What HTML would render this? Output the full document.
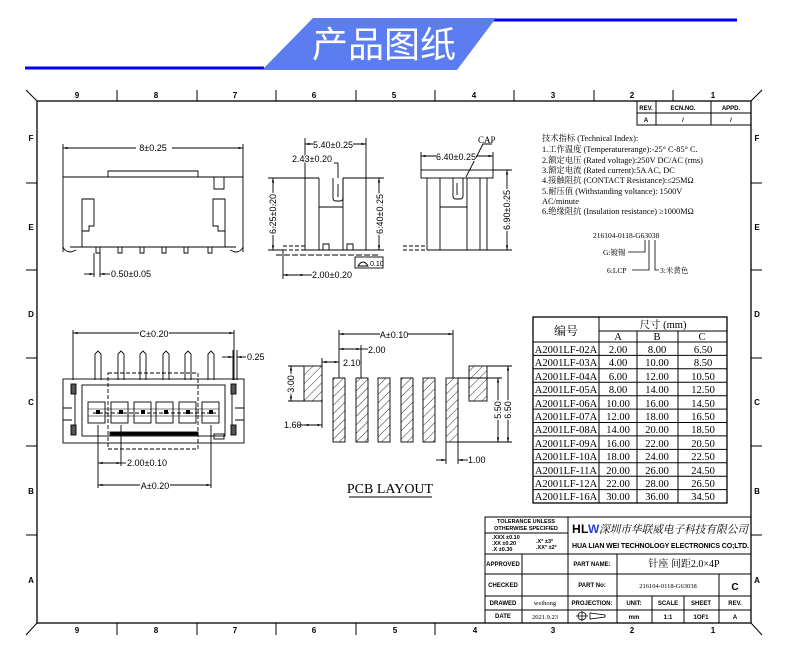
<!DOCTYPE html>
<html><head><meta charset="utf-8"><style>
html,body{margin:0;padding:0;background:#fff;}
svg{display:block;}
text{font-family:"Liberation Sans","Noto Sans CJK SC",sans-serif;fill:#000;}
.s,.s text{font-family:"Liberation Serif","Noto Serif CJK SC","Noto Sans CJK SC",serif;}
.b{font-weight:bold;}
</style></head><body>
<svg width="790" height="663" viewBox="0 0 790 663" xmlns="http://www.w3.org/2000/svg">
<defs>
<pattern id="h" width="6" height="6" patternUnits="userSpaceOnUse" patternTransform="rotate(45)"><line x1="0" y1="0" x2="0" y2="6" stroke="#000" stroke-width="0.8"/></pattern>
<marker id="a" viewBox="0 0 6 6" refX="6" refY="3" markerWidth="5" markerHeight="5" orient="auto-start-reverse"><path d="M0,1.5L6,3L0,4.5z" fill="#000"/></marker>
</defs>
<!-- header -->
<line x1="25" y1="68" x2="264" y2="68" stroke="#0000ff" stroke-width="3"/>
<line x1="493" y1="20" x2="737" y2="20" stroke="#0000ff" stroke-width="3"/>
<polygon points="313,18 496,18 457,70 262,70" fill="#5b7df0"/>
<text x="384" y="57" font-size="36" fill="#fff" style="fill:#fff" text-anchor="middle">产品图纸</text>

<!-- frame -->
<g stroke="#000" fill="none" stroke-width="1">
<rect x="37" y="101" width="714" height="522" stroke-width="1.3"/>
<line x1="26" y1="90" x2="37" y2="101"/><line x1="762" y1="90" x2="751" y2="101"/>
<line x1="26" y1="635" x2="37" y2="623"/><line x1="762" y1="635" x2="751" y2="623"/>
<path d="M117 90v11M197 90v11M276 90v11M356 90v11M435 90v11M514 90v11M594 90v11M673 90v11"/>
<path d="M117 623v12M197 623v12M276 623v12M356 623v12M435 623v12"/>
<path d="M26 183h11M26 270h11M26 358h11M26 446h11M26 535h11"/>
<path d="M751 183h11M751 270h11M751 358h11M751 446h11M751 535h11"/>
</g>
<g font-size="8" class="b" text-anchor="middle">
<text x="77" y="98">9</text><text x="156" y="98">8</text><text x="235" y="98">7</text><text x="314" y="98">6</text><text x="394" y="98">5</text><text x="474" y="98">4</text><text x="553" y="98">3</text><text x="632" y="98">2</text><text x="713" y="98">1</text>
<text x="77" y="633">9</text><text x="156" y="633">8</text><text x="235" y="633">7</text><text x="314" y="633">6</text><text x="395" y="633">5</text><text x="475" y="633">4</text><text x="553" y="633">3</text><text x="632" y="633">2</text><text x="713" y="633">1</text>
<text x="31" y="141">F</text><text x="31" y="230">E</text><text x="31" y="317">D</text><text x="31" y="405">C</text><text x="31" y="494">B</text><text x="31" y="583">A</text>
<text x="757" y="141">F</text><text x="757" y="230">E</text><text x="757" y="317">D</text><text x="757" y="405">C</text><text x="757" y="494">B</text><text x="757" y="583">A</text>
</g>
<!-- rev table -->
<g stroke="#000" fill="none"><rect x="637" y="101" width="114" height="24"/><line x1="637" y1="113" x2="751" y2="113"/><line x1="656" y1="101" x2="656" y2="125"/><line x1="711" y1="101" x2="711" y2="125"/></g>
<g font-size="6" class="b" text-anchor="middle"><text x="646" y="110">REV.</text><text x="683" y="110">ECN.NO.</text><text x="731" y="110">APPD.</text><text x="646" y="122">A</text><text x="683" y="122">/</text><text x="731" y="122">/</text></g>

<!-- front view -->
<g stroke="#000" fill="none" stroke-width="0.9">
<path d="M63 177H243M108 177V171H198V177M63 144V252M243 144V252"/>
<path d="M63 247q2 5 8 5l5 -2M243 247q-2 5 -8 5l-5 -2M70 247H236"/>
<path d="M82 247V199H94V226H89V231H82M225 247V199H213V226H218V231H225M214 177V189H224V177"/>
<path d="M96 247v6h4v-6M118 247v6h4v-6M140 247v6h4v-6M162 247v6h4v-6M184 247v6h4v-6M208 247v6h4v-6"/>
<path d="M94 253V277M100 253V277"/>
<line x1="63" y1="148" x2="243" y2="148" marker-start="url(#a)" marker-end="url(#a)"/>
<line x1="84" y1="274" x2="94" y2="274" marker-end="url(#a)"/><line x1="110" y1="274" x2="100" y2="274" marker-end="url(#a)"/>
</g>
<rect x="136" y="142" width="36" height="10" fill="#fff"/>
<text x="153" y="151" font-size="9" text-anchor="middle">8±0.25</text>
<text x="111" y="277" font-size="9">0.50±0.05</text>

<!-- side view 1 -->
<g stroke="#000" fill="none" stroke-width="0.9">
<path d="M305 138V250M366 138V250M305 178H319M343 178H366M319 178V250M343 178V250"/>
<path d="M333 178V198q0 3 3 3h4q3 0 3-3V178" /><path d="M338 184v13"/>
<path d="M319 207H343M305 250H366M323 250v-6h6v6M347 250v-6h6v6"/>
<path d="M283 246H305M283 250H305" stroke-dasharray="4 2"/>
<path d="M268 178H305M268 250H283M366 178H384M366 250H384M283 250V279M338 163V178"/>
<line x1="273" y1="178" x2="273" y2="250" marker-start="url(#a)" marker-end="url(#a)"/>
<line x1="379" y1="178" x2="379" y2="250" marker-start="url(#a)" marker-end="url(#a)"/>
<line x1="305" y1="144" x2="366" y2="144" marker-start="url(#a)" marker-end="url(#a)"/>
<line x1="334" y1="163" x2="338" y2="163"/>
<line x1="283" y1="275" x2="305" y2="275" marker-start="url(#a)" marker-end="url(#a)"/>
<line x1="305" y1="275" x2="312" y2="275"/>
<line x1="276" y1="255" x2="380" y2="255" stroke-dasharray="6 2"/>
<rect x="355" y="257" width="28" height="11"/><path d="M358 266q5 -8 10 0z"/>
</g>
<rect x="313" y="139" width="40" height="10" fill="#fff"/>
<text x="333" y="148" font-size="9" text-anchor="middle">5.40±0.25</text>
<text x="292" y="162" font-size="9" style="paint-order:stroke;stroke:#fff;stroke-width:2">2.43±0.20</text>
<text x="312" y="278" font-size="9">2.00±0.20</text>
<text x="370" y="266" font-size="7">0.10</text>
<text transform="translate(276,214) rotate(-90)" font-size="9" text-anchor="middle" style="paint-order:stroke;stroke:#fff;stroke-width:3">6.25±0.20</text>
<text transform="translate(383,214) rotate(-90)" font-size="9" text-anchor="middle" style="paint-order:stroke;stroke:#fff;stroke-width:3">6.40±0.25</text>

<!-- side view 2 -->
<g stroke="#000" fill="none" stroke-width="0.9">
<rect x="421" y="170" width="72" height="8"/>
<path d="M427 178V250M440 178V250M467 178V250M487 178V250M480 178V250M427 250H487M440 207H467"/>
<path d="M453 178V196q0 3 3 3h4q3 0 3-3V178M457 183v12"/>
<path d="M403 246H427M403 250H427" stroke-dasharray="4 2"/>
<path d="M421 152V170M493 152V170M493 170H512M487 250H512"/>
<line x1="421" y1="156" x2="493" y2="156" marker-start="url(#a)" marker-end="url(#a)"/>
<line x1="507" y1="170" x2="507" y2="250" marker-start="url(#a)" marker-end="url(#a)"/>
<path d="M466 177L483 144H492"/>
</g>
<rect x="436" y="151" width="40" height="10" fill="#fff"/>
<text x="456" y="160" font-size="9" text-anchor="middle">6.40±0.25</text>
<text x="478" y="143" font-size="9" class="s">CAP</text>
<text transform="translate(510,210) rotate(-90)" font-size="9" text-anchor="middle" style="paint-order:stroke;stroke:#fff;stroke-width:3">6.90±0.25</text>

<!-- specs -->
<g font-size="8.3" class="s">
<text x="542" y="141">技术指标 (Technical Index):</text>
<text x="542" y="152">1.工作温度 (Temperaturerange):-25° C-85° C.</text>
<text x="542" y="163">2.额定电压 (Rated voltage):250V DC/AC (rms)</text>
<text x="542" y="173">3.额定电流 (Rated current):5A AC, DC</text>
<text x="542" y="183">4.接触阻抗 (CONTACT Resistance):≤25MΩ</text>
<text x="542" y="194">5.耐压值 (Withstanding voltance): 1500V</text>
<text x="542" y="204">AC/minute</text>
<text x="542" y="214">6.绝缘阻抗 (Insulation resistance) ≥1000MΩ</text>
<text x="593" y="238" font-size="7.5">216104-0118-G63038</text>
<text x="603" y="255" font-size="7.5">G:镀锡</text>
<text x="607" y="273" font-size="7.5">6:LCP</text>
<text x="660" y="273" font-size="7.5">3:米黄色</text>
</g>
<g stroke="#000" fill="none" stroke-width="0.8"><path d="M628 252H645V240M632 270H649V240M655 240V270H659"/></g>

<!-- bottom view -->
<g stroke="#000" fill="none" stroke-width="0.9">
<path d="M73 330V380M234 330V380"/>
<line x1="73" y1="333" x2="234" y2="333" marker-start="url(#a)" marker-end="url(#a)"/>
<path d="M95 380V354l3-3 3 3V380M118 380V354l3-3 3 3V380M140 380V354l3-3 3 3V380M163 380V354l3-3 3 3V380M185 380V354l3-3 3 3V380M208 380V354l3-3 3 3V380"/>
<rect x="63" y="379" width="181" height="64"/>
<rect x="82" y="385" width="143" height="51"/>
<rect x="108" y="373" width="90" height="76" stroke-dasharray="4 2"/>
<path d="M63 408H72M63 420H72M235 408H244M235 420H244M75 386V432M232 386V432"/>
<rect x="71" y="384" width="5" height="10" fill="#555"/><rect x="71" y="425" width="5" height="10" fill="#555"/>
<rect x="231" y="384" width="5" height="10" fill="#555"/><rect x="231" y="425" width="5" height="10" fill="#555"/>
<rect x="88" y="402" width="17" height="21"/><rect x="111" y="402" width="17" height="21"/><rect x="134" y="402" width="17" height="21"/><rect x="156" y="402" width="17" height="21"/><rect x="179" y="402" width="17" height="21"/><rect x="202" y="402" width="17" height="21"/>
<path d="M88 409H219M88 416H219" stroke-width="0.5"/>
<line x1="93" y1="413" x2="216" y2="413" stroke-dasharray="4 2"/>
<rect x="110" y="432" width="88" height="3" fill="#000"/>
<rect x="214" y="434" width="10" height="5"/>
<path d="M98 425V488M121 425V466M211 425V488"/>
<line x1="98" y1="463" x2="121" y2="463" marker-start="url(#a)" marker-end="url(#a)"/>
<line x1="121" y1="463" x2="126" y2="463"/>
<line x1="98" y1="485" x2="211" y2="485" marker-start="url(#a)" marker-end="url(#a)"/>
<line x1="222" y1="357" x2="233" y2="357" marker-end="url(#a)"/><line x1="246" y1="357" x2="237" y2="357" marker-end="url(#a)"/>
<path d="M233 350V380M237 350V380"/>
</g>
<g fill="#000"><rect x="96" y="410" width="4" height="4"/><rect x="119" y="410" width="4" height="4"/><rect x="141" y="410" width="4" height="4"/><rect x="164" y="410" width="4" height="4"/><rect x="186" y="410" width="4" height="4"/><rect x="209" y="410" width="4" height="4"/></g>
<rect x="139" y="328" width="30" height="10" fill="#fff"/>
<text x="154" y="337" font-size="9" text-anchor="middle">C±0.20</text>
<text x="127" y="466" font-size="9">2.00±0.10</text>
<rect x="140" y="480" width="30" height="10" fill="#fff"/>
<text x="155" y="489" font-size="9" text-anchor="middle">A±0.20</text>
<text x="247" y="360" font-size="9">0.25</text>

<!-- PCB layout -->
<g stroke="#000" stroke-width="0.9">
<rect x="333" y="378" width="12" height="64" fill="url(#h)"/><rect x="356" y="378" width="12" height="64" fill="url(#h)"/><rect x="378" y="378" width="12" height="64" fill="url(#h)"/><rect x="401" y="378" width="12" height="64" fill="url(#h)"/><rect x="423" y="378" width="12" height="64" fill="url(#h)"/><rect x="446" y="378" width="12" height="64" fill="url(#h)"/>
<rect x="304" y="366" width="18" height="35" fill="url(#h)"/><rect x="469" y="366" width="18" height="35" fill="url(#h)"/>
<g fill="none">
<path d="M339 330V378M453 330V378M361 345V378M322 358V366M322 401V428M288 366H304M288 401H304M458 378H502M487 366H512M458 442H512M446 442V464M458 442V464"/>
<line x1="339" y1="334" x2="453" y2="334" marker-start="url(#a)" marker-end="url(#a)"/>
<line x1="339" y1="349" x2="361" y2="349" marker-start="url(#a)" marker-end="url(#a)"/><line x1="361" y1="349" x2="368" y2="349"/>
<line x1="322" y1="362" x2="339" y2="362" marker-start="url(#a)" marker-end="url(#a)"/>
<line x1="291" y1="366" x2="291" y2="401" marker-start="url(#a)" marker-end="url(#a)"/>
<line x1="298" y1="425" x2="304" y2="425"/><line x1="304" y1="425" x2="322" y2="425" marker-start="url(#a)" marker-end="url(#a)"/>
<line x1="498" y1="378" x2="498" y2="442" marker-start="url(#a)" marker-end="url(#a)"/>
<line x1="508" y1="366" x2="508" y2="442" marker-start="url(#a)" marker-end="url(#a)"/>
<line x1="436" y1="460" x2="446" y2="460" marker-end="url(#a)"/><line x1="468" y1="460" x2="458" y2="460" marker-end="url(#a)"/>
<line x1="349" y1="497" x2="432" y2="497"/>
</g></g>
<rect x="380" y="329" width="28" height="10" fill="#fff"/>
<text x="394" y="338" font-size="9" text-anchor="middle">A±0.10</text>
<text x="368" y="353" font-size="9">2.00</text>
<text x="343" y="366" font-size="9">2.10</text>
<text x="284" y="428" font-size="9">1.60</text>
<text x="468" y="463" font-size="9">1.00</text>
<text transform="translate(294,384) rotate(-90)" font-size="9" text-anchor="middle" style="paint-order:stroke;stroke:#fff;stroke-width:3">3.00</text>
<text transform="translate(501,410) rotate(-90)" font-size="9" text-anchor="middle" style="paint-order:stroke;stroke:#fff;stroke-width:3">5.50</text>
<text transform="translate(511,410) rotate(-90)" font-size="9" text-anchor="middle" style="paint-order:stroke;stroke:#fff;stroke-width:3">6.50</text>
<text x="390" y="493" font-size="14" class="s" text-anchor="middle">PCB LAYOUT</text>

<!-- table -->
<g stroke="#000" fill="none" stroke-width="1">
<rect x="533" y="317" width="194" height="186" stroke-width="1.3"/>
<line x1="599" y1="317" x2="599" y2="503"/>
<line x1="599" y1="331" x2="727" y2="331"/>
<line x1="637" y1="331" x2="637" y2="503"/><line x1="678" y1="331" x2="678" y2="503"/>
<path d="M533 342H727M533 355.4H727M533 368.8H727M533 382.3H727M533 395.7H727M533 409.1H727M533 422.5H727M533 435.9H727M533 449.4H727M533 462.8H727M533 476.2H727M533 489.6H727"/>
</g>
<g class="s" font-size="10.5" text-anchor="middle">
<text x="566" y="335" font-size="12">编号</text>
<text x="663" y="328">尺寸 (mm)</text>
<text x="618" y="340">A</text><text x="657" y="340">B</text><text x="702" y="340">C</text>
</g>
<g class="s" font-size="10.5">
<g text-anchor="middle">
<text x="566" y="353">A2001LF-02A</text><text x="566" y="366">A2001LF-03A</text><text x="566" y="380">A2001LF-04A</text><text x="566" y="393">A2001LF-05A</text><text x="566" y="407">A2001LF-06A</text><text x="566" y="420">A2001LF-07A</text><text x="566" y="433">A2001LF-08A</text><text x="566" y="447">A2001LF-09A</text><text x="566" y="460">A2001LF-10A</text><text x="566" y="474">A2001LF-11A</text><text x="566" y="487">A2001LF-12A</text><text x="566" y="500">A2001LF-16A</text>
<text x="618" y="353">2.00</text><text x="618" y="366">4.00</text><text x="618" y="380">6.00</text><text x="618" y="393">8.00</text><text x="618" y="407">10.00</text><text x="618" y="420">12.00</text><text x="618" y="433">14.00</text><text x="618" y="447">16.00</text><text x="618" y="460">18.00</text><text x="618" y="474">20.00</text><text x="618" y="487">22.00</text><text x="618" y="500">30.00</text>
<text x="657" y="353">8.00</text><text x="657" y="366">10.00</text><text x="657" y="380">12.00</text><text x="657" y="393">14.00</text><text x="657" y="407">16.00</text><text x="657" y="420">18.00</text><text x="657" y="433">20.00</text><text x="657" y="447">22.00</text><text x="657" y="460">24.00</text><text x="657" y="474">26.00</text><text x="657" y="487">28.00</text><text x="657" y="500">36.00</text>
<text x="703" y="353">6.50</text><text x="703" y="366">8.50</text><text x="703" y="380">10.50</text><text x="703" y="393">12.50</text><text x="703" y="407">14.50</text><text x="703" y="420">16.50</text><text x="703" y="433">18.50</text><text x="703" y="447">20.50</text><text x="703" y="460">22.50</text><text x="703" y="474">24.50</text><text x="703" y="487">26.50</text><text x="703" y="500">34.50</text>
</g></g>

<!-- title block -->
<g stroke="#000" fill="none" stroke-width="1">
<path d="M485 623V517H751M485 554H751M485 574H751M485 596H751M485 610H751"/>
<path d="M568 517V623M522 554V623M617 554V623M652 596V623M684 596V623M719 574V623M485 533H568"/>
</g>
<g font-size="5.5" class="b" text-anchor="middle">
<text x="526" y="523">TOLERANCE UNLESS</text><text x="526" y="530">OTHERWISE SPECIFIED</text>
</g>
<g font-size="5.5" class="b">
<text x="492" y="539">.XXX ±0.10</text><text x="492" y="545">.XX   ±0.20</text><text x="492" y="551">.X     ±0.30</text>
<text x="536" y="543">.X°   ±3°</text><text x="536" y="549">.XX°  ±2°</text>
</g>
<text x="572" y="533" font-size="12" class="b" fill="#222">H</text>
<text x="581" y="533" font-size="12" class="b">L</text>
<text x="588" y="533" font-size="12" class="b" style="fill:#2a3fd0">W</text>
<text x="599" y="533" font-size="11" class="s" style="font-style:italic" textLength="149" lengthAdjust="spacingAndGlyphs">深圳市华联威电子科技有限公司</text>
<text x="572" y="548" font-size="7" class="b" textLength="177">HUA LIAN WEI TECHNOLOGY ELECTRONICS CO;LTD.</text>
<g font-size="6" class="b" text-anchor="middle">
<text x="503" y="566">APPROVED</text><text x="592" y="566">PART NAME:</text>
<text x="503" y="587">CHECKED</text><text x="592" y="587">PART No:</text>
<text x="503" y="605">DRAWED</text><text x="592" y="605">PROJECTION:</text><text x="634" y="605">UNIT:</text><text x="668" y="605">SCALE</text><text x="701" y="605">SHEET</text><text x="735" y="605">REV.</text>
<text x="503" y="618">DATE</text><text x="634" y="619">mm</text><text x="668" y="619">1:1</text><text x="701" y="619">1OF1</text><text x="735" y="619">A</text>
</g>
<text x="684" y="567" font-size="10" class="s" text-anchor="middle">针座 间距2.0×4P</text>
<text x="668" y="588" font-size="6.5" class="s" text-anchor="middle">216104-0118-G63038</text>
<text x="735" y="590" font-size="10" class="b" text-anchor="middle">C</text>
<text x="545" y="605" font-size="6.5" class="s" text-anchor="middle">weihong</text>
<text x="545" y="619" font-size="6.5" class="s" text-anchor="middle">2021.9.23</text>
<g stroke="#000" fill="none" stroke-width="0.8"><circle cx="582" cy="616" r="4"/><path d="M576 616h12M582 611v10M590 613v6l15-2v-2z"/></g>
</svg>
</body></html>
